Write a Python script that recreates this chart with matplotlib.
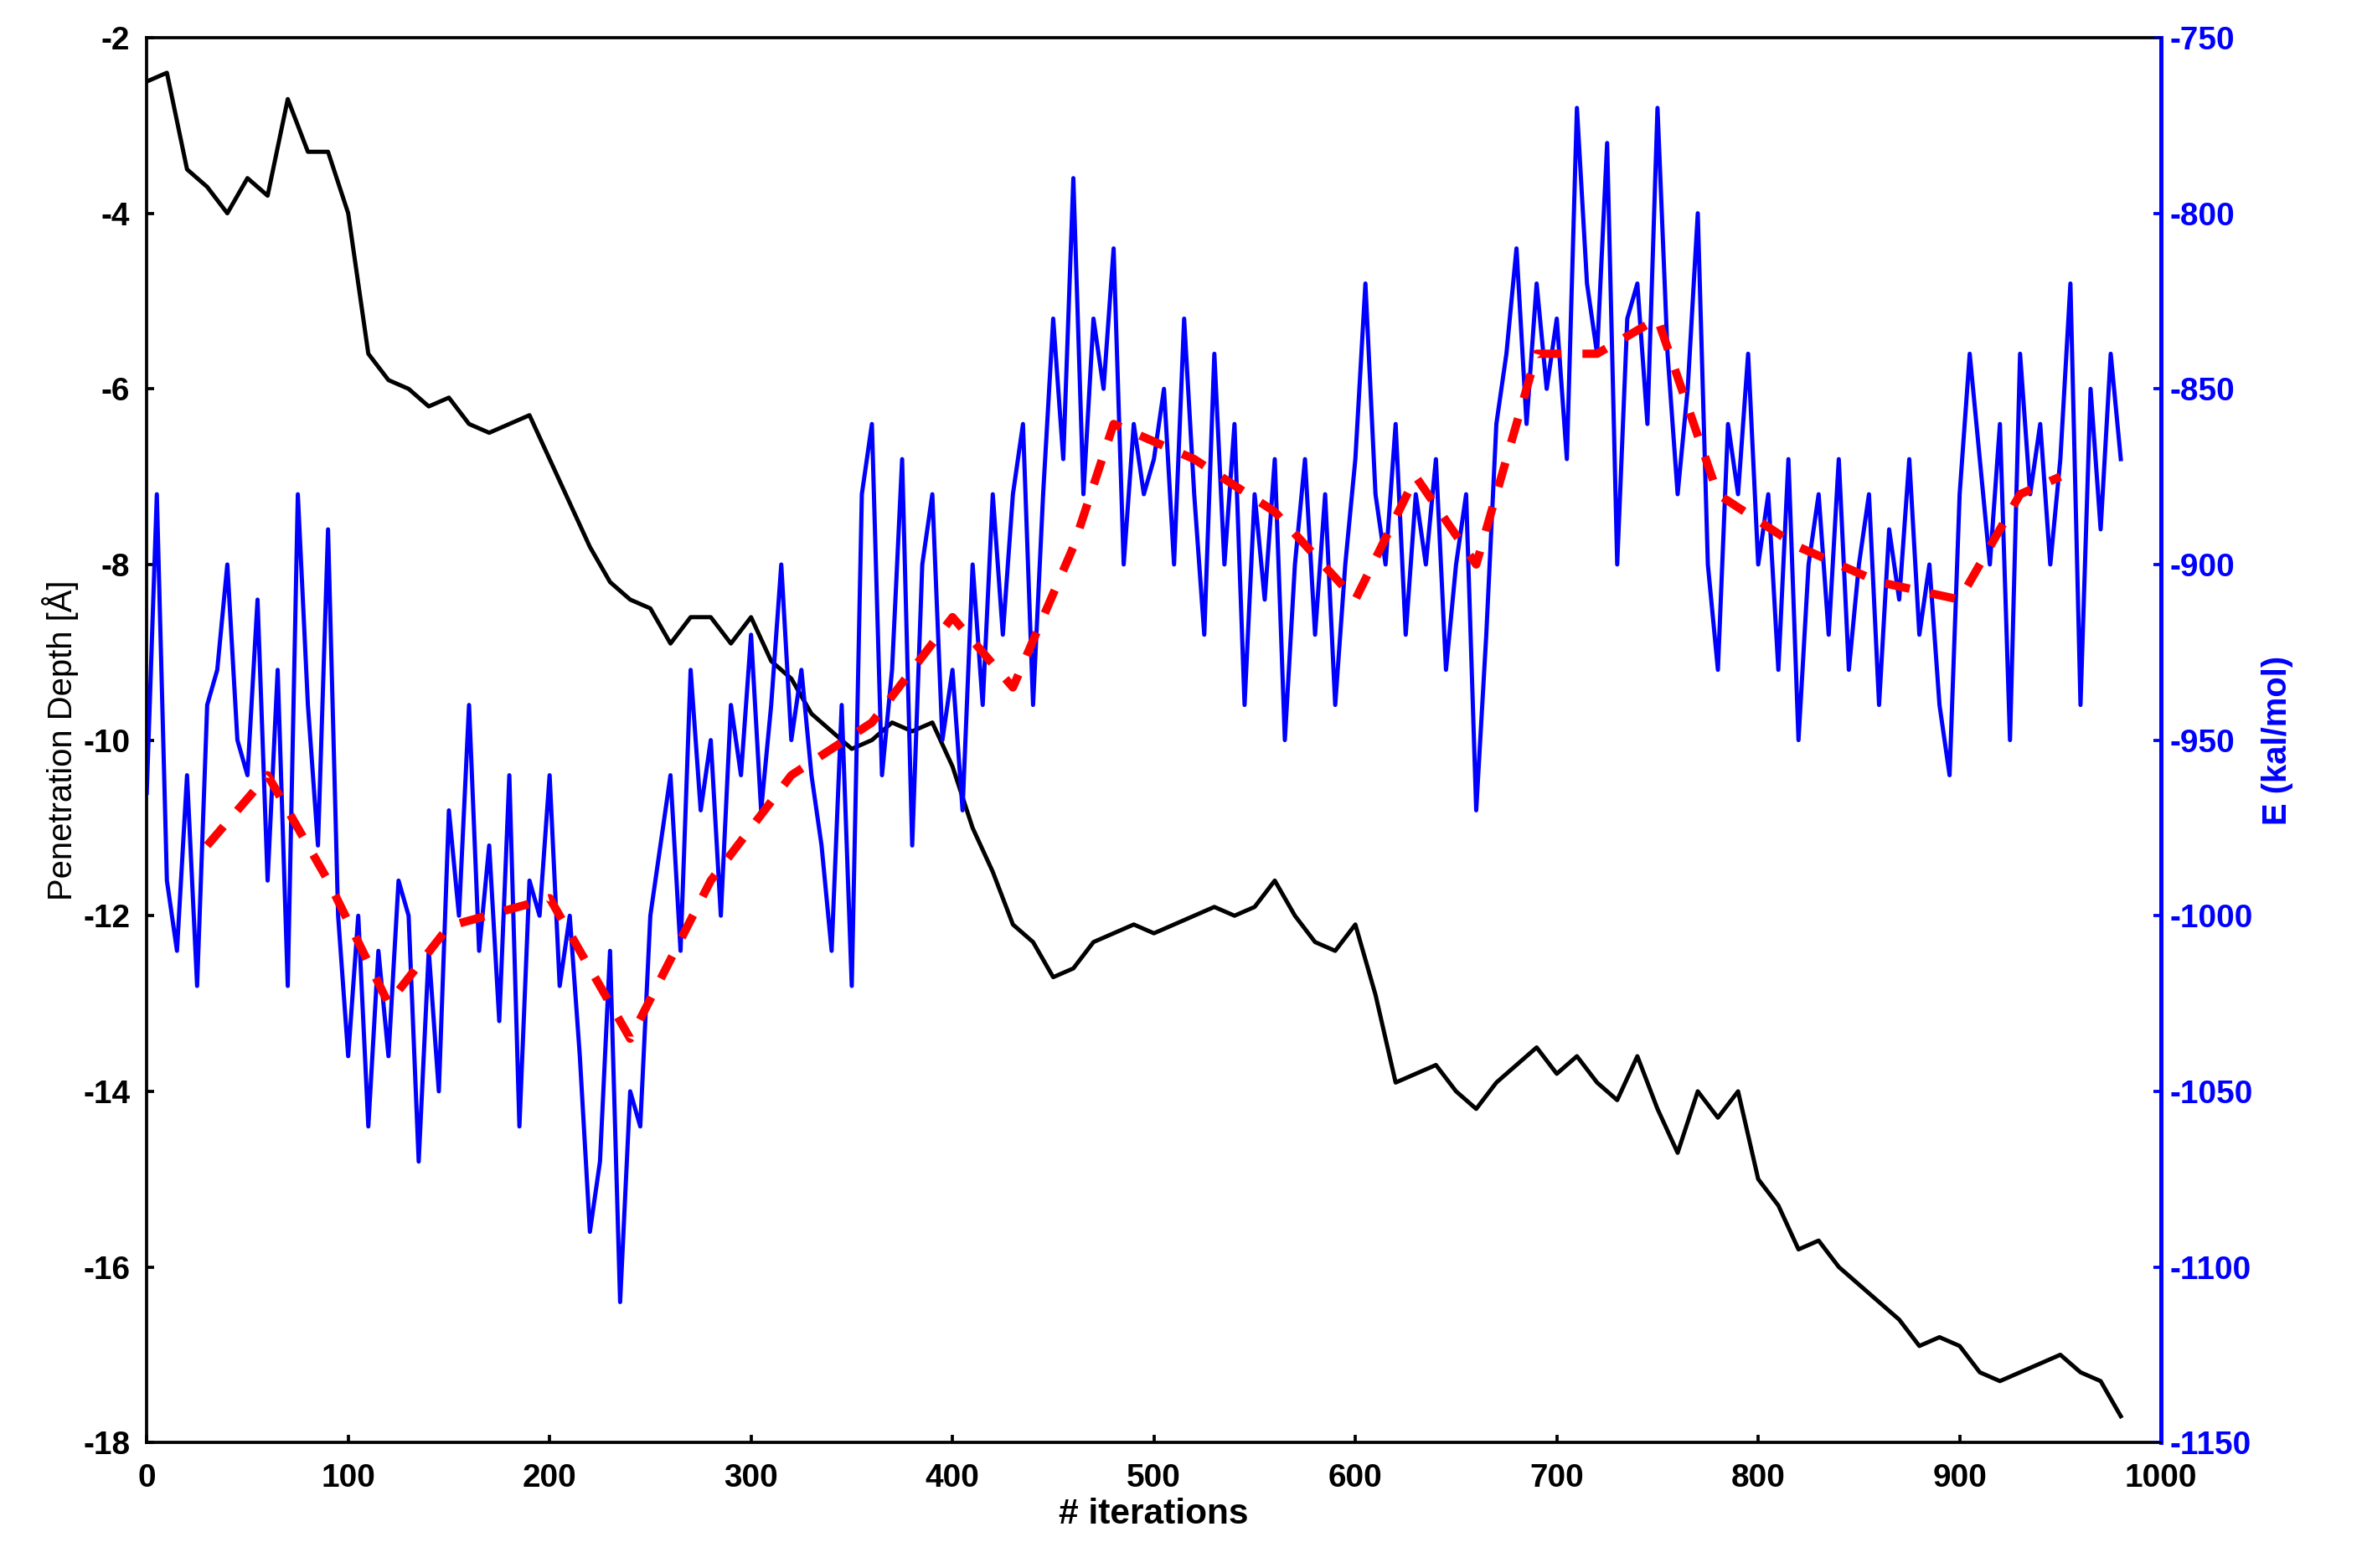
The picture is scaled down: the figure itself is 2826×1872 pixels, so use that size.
import matplotlib.pyplot as plt

plt.rcParams['font.family'] = ['Liberation Sans', 'DejaVu Sans']
plt.rcParams['font.weight'] = 'bold'
plt.rcParams['axes.unicode_minus'] = False

# penetration depth (black), every 10 iterations
depth_x = list(range(0, 990, 10))
depth = [-2.5, -2.4, -3.5, -3.7, -4.0, -3.6, -3.8, -2.7, -3.3, -3.3,
         -4.0, -5.6, -5.9, -6.0, -6.2, -6.1, -6.4, -6.5, -6.4, -6.3,
         -6.8, -7.3, -7.8, -8.2, -8.4, -8.5, -8.9, -8.6, -8.6, -8.9,
         -8.6, -9.1, -9.3, -9.7, -9.9, -10.1, -10.0, -9.8, -9.9, -9.8,
         -10.3, -11.0, -11.5, -12.1, -12.3, -12.7, -12.6, -12.3, -12.2, -12.1,
         -12.2, -12.1, -12.0, -11.9, -12.0, -11.9, -11.6, -12.0, -12.3, -12.4,
         -12.1, -12.9, -13.9, -13.8, -13.7, -14.0, -14.2, -13.9, -13.7, -13.5,
         -13.8, -13.6, -13.9, -14.1, -13.6, -14.2, -14.7, -14.0, -14.3, -14.0,
         -15.0, -15.3, -15.8, -15.7, -16.0, -16.2, -16.4, -16.6, -16.9, -16.8,
         -16.9, -17.2, -17.3, -17.2, -17.1, -17.0, -17.2, -17.3, -17.7]

# energy (blue), every 5 iterations
energy_x = list(range(0, 985, 5))
energy = [-965, -880, -990, -1010, -960, -1020, -940, -930, -900, -950, -960, -910, -990, -930, -1020, -880, -940, -980, -890, -1000,
          -1040, -1000, -1060, -1010, -1040, -990, -1000, -1070, -1010, -1050, -970, -1000, -940, -1010, -980, -1030, -960, -1060, -990, -1000,
          -960, -1020, -1000, -1040, -1090, -1070, -1010, -1110, -1050, -1060, -1000, -980, -960, -1010, -930, -970, -950, -1000, -940, -960,
          -920, -970, -940, -900, -950, -930, -960, -980, -1010, -940, -1020, -880, -860, -960, -930, -870, -980, -900, -880, -950,
          -930, -970, -900, -940, -880, -920, -880, -860, -940, -880, -830, -870, -790, -880, -830, -850, -810, -900, -860, -880,
          -870, -850, -900, -830, -880, -920, -840, -900, -860, -940, -880, -910, -870, -950, -900, -870, -920, -880, -940, -900,
          -870, -820, -880, -900, -860, -920, -880, -900, -870, -930, -900, -880, -970, -920, -860, -840, -810, -860, -820, -850,
          -830, -870, -770, -820, -840, -780, -900, -830, -820, -860, -770, -840, -880, -850, -800, -900, -930, -860, -880, -840,
          -900, -880, -930, -870, -950, -900, -880, -920, -870, -930, -900, -880, -940, -890, -910, -870, -920, -900, -940, -960,
          -880, -840, -870, -900, -860, -950, -840, -880, -860, -900, -870, -820, -940, -850, -890, -840, -870]

# smoothed trend (red dashed)
trend_x = [30, 60, 90, 120, 150, 200, 240, 280, 320, 360, 400, 430, 460, 480,
           520, 560, 600, 630, 660, 690, 720, 750, 780, 820, 860, 900, 930, 950]
trend = [-980, -960, -990, -1025, -1003, -995, -1035, -990, -960, -945, -915, -935, -895, -860,
         -870, -885, -910, -875, -900, -840, -840, -830, -880, -895, -905, -910, -880, -875]

fig, ax = plt.subplots(figsize=(15.7, 10.4), dpi=180)
fig.subplots_adjust(left=0.062, right=0.913, bottom=0.08, top=0.976)
ax2 = ax.twinx()

ax.plot(depth_x, depth, color='black', lw=2)
ax2.plot(energy_x, energy, color='blue', lw=2)
ax2.plot(trend_x, trend, color='red', lw=4, ls=(0, (3, 2.5)))

ax.set_xlim(0, 1000)
ax.set_ylim(-18, -2)
ax2.set_ylim(-1150, -750)
ax.set_xticks(range(0, 1001, 100))
ax.set_yticks(range(-18, -1, 2))
ax2.set_yticks(range(-1150, -749, 50))

ax.set_xlabel('# iterations', fontsize=17, fontweight='bold', labelpad=2)
ax.set_ylabel('Penetration Depth [Å]', fontsize=16, labelpad=2)
ax2.set_ylabel('E (kal/mol)', fontsize=16, color='blue', fontweight='bold', labelpad=4)
ax.tick_params(axis='x', labelsize=15.5, direction='in', width=1.5, pad=10)
ax.tick_params(axis='y', labelsize=15.5, direction='in', width=1.5, pad=8)
ax2.tick_params(labelsize=15.5, direction='in', colors='blue', width=1.5, pad=4)
ax2.spines['right'].set_color('blue')
for s in ['left', 'bottom', 'top']:
    ax.spines[s].set_linewidth(1.5)
ax2.spines['right'].set_linewidth(2)

fig.savefig('out.png')
